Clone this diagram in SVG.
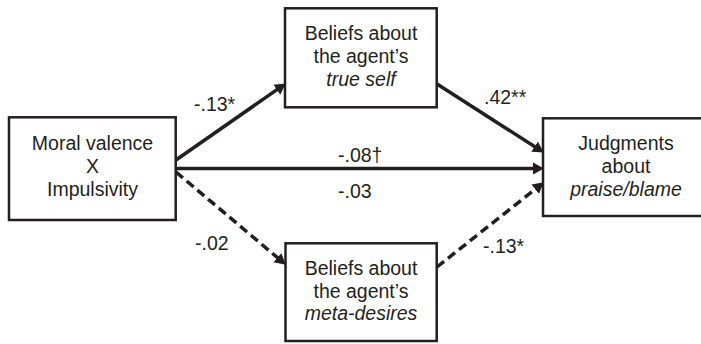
<svg xmlns="http://www.w3.org/2000/svg" width="701" height="344" viewBox="0 0 701 344">
<style>
.box{fill:#fff;stroke:#231f20;stroke-width:2.5}
.t{font-family:"Liberation Sans",Arial,sans-serif;font-size:19.5px;fill:#231f20;text-anchor:middle}
.lbl{font-family:"Liberation Sans",Arial,sans-serif;font-size:19.5px;fill:#231f20}
.i{font-style:italic}
.edge{fill:none;stroke:#231f20;stroke-width:3.5;marker-end:url(#ah)}
.dash{stroke-dasharray:9,5}
</style>
<defs>
<marker id="ah" markerUnits="userSpaceOnUse" markerWidth="12" markerHeight="13" refX="5" refY="6" orient="auto" viewBox="0 0 12 12">
<path d="M0,0 L11,6 L0,12 z" fill="#231f20"/>
</marker>
</defs>
<rect width="701" height="344" fill="#fff"/>
<g id="connectors">
<path class="edge" d="M176,160 L280.9,86.9"/>
<path class="edge" d="M176,168.5 L538,168.5"/>
<path class="edge dash" d="M176,172 L281.2,260.8"/>
<path class="edge" d="M437,84 L538.8,149.3"/>
<path class="edge dash" d="M437,267 L539.1,186.1"/>
<text class="lbl" x="194" y="110.5">-.13*</text>
<text class="lbl" x="338" y="161.5">-.08†</text>
<text class="lbl" x="338" y="198">-.03</text>
<text class="lbl" x="195" y="250">-.02</text>
<text class="lbl" x="484" y="104">.42**</text>
<text class="lbl" x="483" y="253">-.13*</text>
</g>
<g id="node-moral">
<rect class="box" x="9" y="117.3" width="166.7" height="102.7"/>
<text class="t" x="92.5" y="150">Moral valence</text>
<text class="t" x="92.5" y="173">X</text>
<text class="t" x="92.5" y="196">Impulsivity</text>
</g>
<g id="node-trueself">
<rect class="box" x="285" y="8.3" width="151.7" height="99"/>
<text class="t" x="361" y="40">Beliefs about</text>
<text class="t" x="361" y="63">the agent’s</text>
<text class="t i" x="361" y="86">true self</text>
</g>
<g id="node-metadesires">
<rect class="box" x="285.5" y="243.3" width="151.2" height="97.7"/>
<text class="t" x="361" y="275">Beliefs about</text>
<text class="t" x="361" y="297.5">the agent’s</text>
<text class="t i" x="361" y="320">meta-desires</text>
</g>
<g id="node-judgments">
<rect class="box" x="543" y="118.3" width="166" height="97.7"/>
<text class="t" x="626" y="149.5">Judgments</text>
<text class="t" x="626" y="173">about</text>
<text class="t i" x="626" y="195.5">praise/blame</text>
</g>
</svg>
